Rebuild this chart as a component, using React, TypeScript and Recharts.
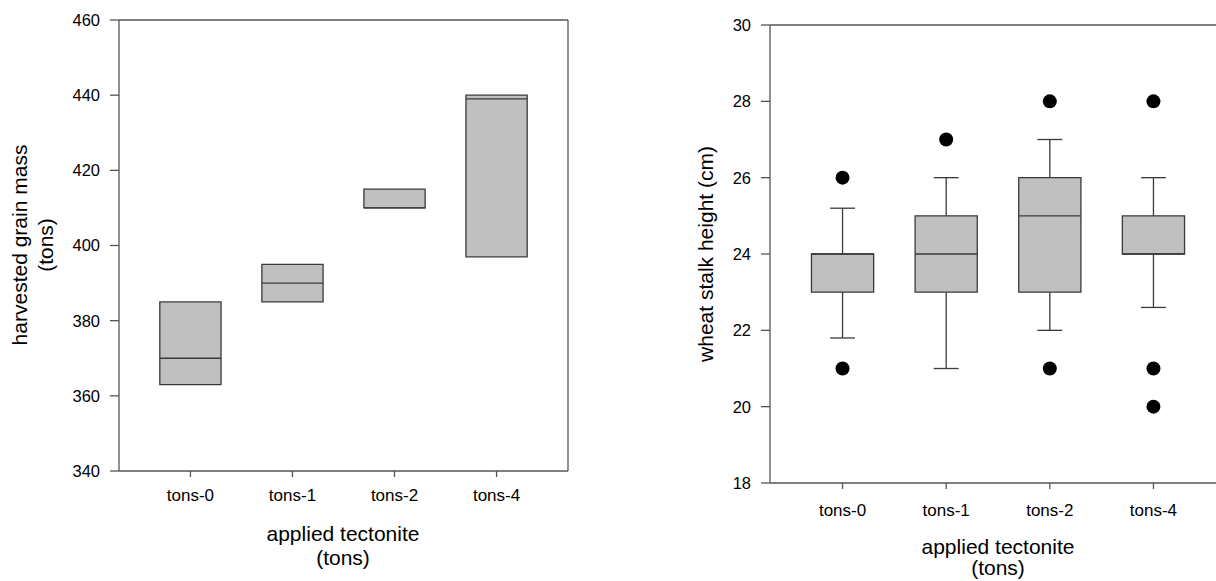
import {
  ComposedChart,
  Label,
  ReferenceArea,
  ReferenceLine,
  Scatter,
  XAxis,
  YAxis,
} from "recharts";

const categories = ["tons-0", "tons-1", "tons-2", "tons-4"];
const positions = [1, 2, 3, 4];

// harvested grain mass (tons) - boxes only
const grainQ1 = [363, 385, 410, 397];
const grainMedian = [370, 390, 410, 439];
const grainQ3 = [385, 395, 415, 440];
const grainTicks = [340, 360, 380, 400, 420, 440, 460];

// wheat stalk height (cm)
const stalkQ1 = [23, 23, 23, 24];
const stalkMedian = [24, 24, 25, 24];
const stalkQ3 = [24, 25, 26, 25];
const stalkWhiskerLow = [21.8, 21, 22, 22.6];
const stalkWhiskerHigh = [25.2, 26, 27, 26];
const stalkOutliers = [[21, 26], [27], [21, 28], [20, 21, 28]];
const stalkTicks = [18, 20, 22, 24, 26, 28, 30];

const BOX_FILL = "#c0c0c0";
const BOX_STROKE = "#3a3a3a";
const AXIS = "#555";
const HALF = 0.3;
const CAP = 0.12;
const X_DOMAIN: [number, number] = [0.3, 4.7];

const grainRows = positions.map((x, i) => ({ x, y: grainMedian[i] }));
const outlierRows = stalkOutliers.flatMap((vals, i) =>
  vals.map((y) => ({ x: positions[i], y }))
);

const tickName = (v: number) => categories[positions.indexOf(v)] ?? "";

function boxes(q1: number[], med: number[], q3: number[], tag: string) {
  const out: any[] = [];
  positions.forEach((x, i) => {
    out.push(
      <ReferenceArea
        key={`${tag}-box-${i}`}
        x1={x - HALF}
        x2={x + HALF}
        y1={q1[i]}
        y2={q3[i]}
        fill={BOX_FILL}
        fillOpacity={1}
        stroke={BOX_STROKE}
        strokeWidth={1.3}
      />
    );
    out.push(
      <ReferenceLine
        key={`${tag}-med-${i}`}
        segment={[
          { x: x - HALF, y: med[i] },
          { x: x + HALF, y: med[i] },
        ]}
        stroke={BOX_STROKE}
        strokeWidth={1.3}
      />
    );
  });
  return out;
}

function whiskers(lo: number[], q1: number[], q3: number[], hi: number[]) {
  const out: any[] = [];
  positions.forEach((x, i) => {
    const segs = [
      [{ x, y: q3[i] }, { x, y: hi[i] }],
      [{ x, y: lo[i] }, { x, y: q1[i] }],
      [{ x: x - CAP, y: hi[i] }, { x: x + CAP, y: hi[i] }],
      [{ x: x - CAP, y: lo[i] }, { x: x + CAP, y: lo[i] }],
    ];
    segs.forEach((s, k) =>
      out.push(
        <ReferenceLine
          key={`wh-${i}-${k}`}
          segment={s}
          stroke={BOX_STROKE}
          strokeWidth={1.3}
        />
      )
    );
  });
  return out;
}

const tickY = { fill: "#000", fontSize: 16.5 };
const tickX = { fill: "#000", fontSize: 17 };

export default function App() {
  return (
    <div
      style={{
        position: "fixed",
        left: 0,
        top: 0,
        width: 1216,
        height: 581,
        overflow: "hidden",
        background: "#fff",
        fontFamily: "'Liberation Sans', Arial, sans-serif",
      }}
    >
      <div style={{ position: "absolute", left: 0, top: 0 }}>
        <ComposedChart
          width={600}
          height={581}
          data={grainRows}
          margin={{ top: 20, right: 32, bottom: 0, left: 0 }}
        >
          <XAxis
            type="number"
            dataKey="x"
            domain={X_DOMAIN}
            ticks={positions}
            tickFormatter={tickName}
            allowDataOverflow
            height={110}
            tickSize={6}
            tickMargin={12}
            tick={tickX}
            stroke={AXIS}
            strokeWidth={1.3}
          >
            <Label
              content={() => (
                <text textAnchor="middle" fontSize={21} fill="#000">
                  <tspan x={343} y={541}>applied tectonite</tspan>
                  <tspan x={343} y={565}>(tons)</tspan>
                </text>
              )}
            />
          </XAxis>
          <YAxis
            type="number"
            domain={[340, 460]}
            ticks={grainTicks}
            allowDataOverflow
            width={119}
            tickSize={9}
            tickMargin={10}
            tick={tickY}
            stroke={AXIS}
            strokeWidth={1.3}
          >
            <Label
              content={() => (
                <g>
                  <text
                    transform="translate(27,245) rotate(-90)"
                    textAnchor="middle"
                    fontSize={21}
                    fill="#000"
                  >
                    harvested grain mass
                  </text>
                  <text
                    transform="translate(53,245) rotate(-90)"
                    textAnchor="middle"
                    fontSize={21}
                    fill="#000"
                  >
                    (tons)
                  </text>
                </g>
              )}
            />
          </YAxis>
          <ReferenceLine y={460} stroke={AXIS} strokeWidth={1.3} />
          <ReferenceLine x={4.7} stroke={AXIS} strokeWidth={1.3} />
          {boxes(grainQ1, grainMedian, grainQ3, "grain")}
        </ComposedChart>
      </div>

      <div style={{ position: "absolute", left: 600, top: 0 }}>
        <ComposedChart
          width={626}
          height={581}
          data={outlierRows}
          margin={{ top: 25, right: 0, bottom: 0, left: 0 }}
        >
          <XAxis
            type="number"
            dataKey="x"
            domain={X_DOMAIN}
            ticks={positions}
            tickFormatter={tickName}
            allowDataOverflow
            height={98}
            tickSize={6}
            tickMargin={15}
            tick={tickX}
            stroke={AXIS}
            strokeWidth={1.3}
          >
            <Label
              content={() => (
                <text textAnchor="middle" fontSize={21} fill="#000">
                  <tspan x={398} y={554}>applied tectonite</tspan>
                  <tspan x={398} y={575}>(tons)</tspan>
                </text>
              )}
            />
          </XAxis>
          <YAxis
            type="number"
            dataKey="y"
            domain={[18, 30]}
            ticks={stalkTicks}
            allowDataOverflow
            width={170}
            tickSize={9}
            tickMargin={10}
            tick={tickY}
            stroke={AXIS}
            strokeWidth={1.3}
          >
            <Label
              content={() => (
                <text
                  transform="translate(113,254) rotate(-90)"
                  textAnchor="middle"
                  fontSize={21}
                  fill="#000"
                >
                  wheat stalk height (cm)
                </text>
              )}
            />
          </YAxis>
          <ReferenceLine y={30} stroke={AXIS} strokeWidth={1.3} />
          {whiskers(stalkWhiskerLow, stalkQ1, stalkQ3, stalkWhiskerHigh)}
          {boxes(stalkQ1, stalkMedian, stalkQ3, "stalk")}
          <Scatter
            data={outlierRows}
            dataKey="y"
            isAnimationActive={false}
            shape={(p: any) => <circle cx={p.cx} cy={p.cy} r={7} fill="#000" />}
          />
        </ComposedChart>
      </div>
    </div>
  );
}
